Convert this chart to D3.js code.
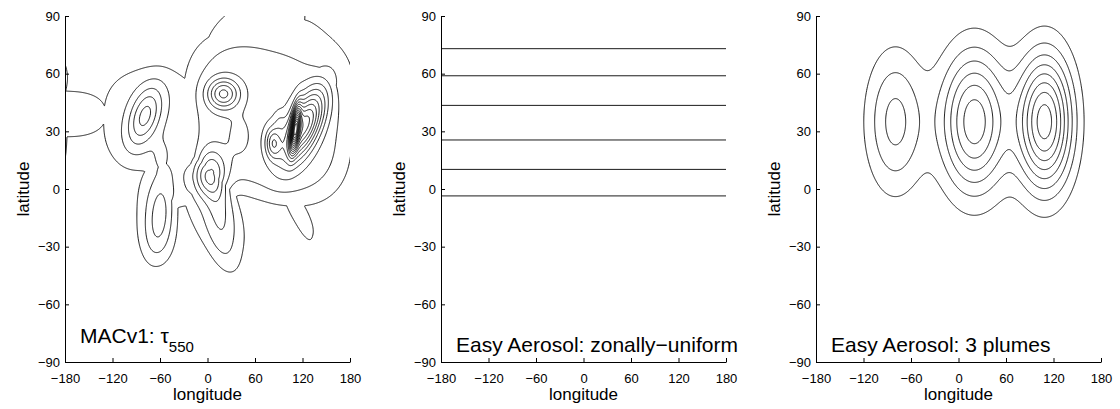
<!DOCTYPE html>
<html>
<head>
<meta charset="utf-8">
<script src="https://cdn.jsdelivr.net/npm/d3@7"></script>
<style>
  body { margin: 0; background: #fff; }
  text { font-family: "Liberation Sans", Arial, Helvetica, sans-serif; fill: #000; }
</style>
</head>
<body>
<svg id="fig" width="1120" height="409"></svg>
<script>
// axis ticks shared by the three maps
const lonTicks = [-180, -120, -60, 0, 60, 120, 180];
const latTicks = [-90, -60, -30, 0, 30, 60, 90];

// panel a: MACv1 optical depth.
// background regions (flat-topped patches): centre, level, half widths, tilt, edge sharpness
const baseLon   = [180, -70, -64, 8, -40, 76, 60, 145, 115];
const baseLat   = [39, 36, -13, -12, 3, 37, 80, 68, -12];
const baseLevel = [0.08, 0.08, 0.08, 0.08, 0.08, 0.13, 0.08, 0.08, 0.08];
const baseSu    = [52, 62, 25, 40, 30, 96, 65, 40, 22];
const baseSv    = [12, 26, 24, 20, 12, 39, 20, 14, 7];
const baseAngle = [0, 0, 0, -30, 0, -6, 12, -20, -35];
const baseSharp = [4, 4, 4, 4, 4, 6, 4, 4, 4];
// local maxima (gaussian bumps): centre, amplitude, widths, tilt
const peakLon   = [-79, -61, -58, 20, 40, 2, 13, 5, 111, 122, 83, 91];
const peakLat   = [38, -14, 15, 49.5, 27.5, 7, -9, 17, 31.5, 33, 24, 35];
const peakAmp   = [0.19, 0.10, 0.04, 0.24, 0.035, 0.19, 0.09, 0.03, 0.50, 0.40, 0.20, 0.045];
const peakSu    = [16, 14, 8, 13.8, 11, 15, 19, 14, 8, 20, 7, 5];
const peakSv    = [9, 10, 7, 5.4, 8.5, 7.5, 11, 6, 3.5, 9, 5.8, 4];
const peakAngle = [25, 70, 0, 0, 0, 0, -58, 0, 70, 30, 0, 0];
const macLevels = [0.05, 0.10, 0.15, 0.20, 0.25, 0.30, 0.35, 0.40, 0.45, 0.50, 0.55, 0.60,
                   0.65, 0.70, 0.75, 0.80, 0.85, 0.90, 0.95, 1.00, 1.05, 1.10, 1.15, 1.20];

// panel b: zonally uniform contours (latitudes)
const zonalLat = [73, 58.9, 43.5, 25.5, 10.2, -3.6];

// panel c: three gaussian plumes
const plumeLon  = [-80, 20, 109];
const plumeLat  = [35, 35, 35];
const plumeAmp  = [0.067, 0.133, 0.17];
const plumeSLon = [25.5, 29, 24];
const plumeSLat = [25, 25, 24];
const plumeLevels = [0.02, 0.04, 0.06, 0.08, 0.10, 0.12, 0.14, 0.16];

const titles = ["MACv1: ", "Easy Aerosol: zonally\u2212uniform", "Easy Aerosol: 3 plumes"];

const svg = d3.select("#fig");
const plotTop = 16, plotBottom = 362, plotW = 285;
const lefts = [65, 441, 816];
const fmt = d => d < 0 ? "\u2212" + (-d) : String(d);

function wrap(d) { return ((d + 540) % 360 + 360) % 360 - 180; }

function rot(dx, dy, deg) {
  const a = deg * Math.PI / 180;
  return [dx * Math.cos(a) + dy * Math.sin(a), -dx * Math.sin(a) + dy * Math.cos(a)];
}

function macField(lon, lat) {
  const q = 2.5;
  let base = 0;
  for (let i = 0; i < baseLon.length; i++) {
    const [u, w] = rot(wrap(lon - baseLon[i]), lat - baseLat[i], baseAngle[i]);
    const s = Math.pow(Math.abs(u / baseSu[i]), q) + Math.pow(Math.abs(w / baseSv[i]), q);
    base = Math.max(base, baseLevel[i] * Math.exp(-0.5 * Math.pow(s, baseSharp[i] / q)));
  }
  let v = base;
  for (let i = 0; i < peakLon.length; i++) {
    const [u, w] = rot(wrap(lon - peakLon[i]), lat - peakLat[i], peakAngle[i]);
    v += peakAmp[i] * Math.exp(-0.5 * (u * u / (peakSu[i] * peakSu[i]) + w * w / (peakSv[i] * peakSv[i])));
  }
  return v;
}

function plumeField(lon, lat) {
  let v = 0;
  for (let i = 0; i < plumeLon.length; i++) {
    const dx = (lon - plumeLon[i]) / plumeSLon[i], dy = (lat - plumeLat[i]) / plumeSLat[i];
    v += plumeAmp[i] * Math.exp(-0.5 * (dx * dx + dy * dy));
  }
  return v;
}

function drawContours(g, x, y, field, levels) {
  const step = 0.5, lon0 = -200, lon1 = 200, lat0 = 110, lat1 = -110;
  const nx = Math.round((lon1 - lon0) / step) + 1, ny = Math.round((lat0 - lat1) / step) + 1;
  const values = new Float64Array(nx * ny);
  for (let j = 0; j < ny; j++)
    for (let i = 0; i < nx; i++)
      values[j * nx + i] = field(lon0 + i * step, lat0 - j * step);
  const contours = d3.contours().size([nx, ny]).thresholds(levels)(values);
  const path = d3.geoPath(d3.geoTransform({
    point(px, py) { this.stream.point(x(lon0 + (px - 0.5) * step), y(lat0 - (py - 0.5) * step)); }
  }));
  g.selectAll("path.c").data(contours).join("path")
    .attr("class", "c")
    .attr("d", path)
    .attr("fill", "none")
    .attr("stroke", "#000")
    .attr("stroke-width", 0.9);
}

lefts.forEach((left, k) => {
  const x = d3.scaleLinear().domain([-180, 180]).range([left, left + plotW]);
  const y = d3.scaleLinear().domain([-90, 90]).range([plotBottom, plotTop]);

  svg.append("clipPath").attr("id", "clip" + k)
    .append("rect").attr("x", left).attr("y", plotTop).attr("width", plotW).attr("height", plotBottom - plotTop);
  const g = svg.append("g").attr("clip-path", `url(#clip${k})`);

  if (k === 0) drawContours(g, x, y, macField, macLevels);
  if (k === 1) {
    g.selectAll("line").data(zonalLat).join("line")
      .attr("x1", x(-180)).attr("x2", x(180))
      .attr("y1", d => y(d)).attr("y2", d => y(d))
      .attr("stroke", "#000").attr("stroke-width", 0.9);
  }
  if (k === 2) drawContours(g, x, y, plumeField, plumeLevels);

  const ax = svg.append("g").attr("transform", `translate(0,${plotBottom})`)
    .call(d3.axisBottom(x).tickValues(lonTicks).tickFormat(fmt)
      .tickSizeInner(-4).tickSizeOuter(0).tickPadding(12));
  const ay = svg.append("g").attr("transform", `translate(${left},0)`)
    .call(d3.axisLeft(y).tickValues(latTicks).tickFormat(fmt)
      .tickSizeInner(-4).tickSizeOuter(0).tickPadding(5));
  [ax, ay].forEach(a => {
    a.selectAll("path, line").attr("stroke", "#000");
    a.selectAll("text").attr("font-size", 13).attr("font-family", null);
  });

  svg.append("text").attr("x", left + plotW / 2).attr("y", 400)
    .attr("text-anchor", "middle").attr("font-size", 17).text("longitude");
  svg.append("text")
    .attr("transform", `translate(${left - 36},${(plotTop + plotBottom) / 2}) rotate(-90)`)
    .attr("text-anchor", "middle").attr("font-size", 17).text("latitude");

  const t = svg.append("text").attr("x", left + 15).attr("y", k === 0 ? 343 : 352)
    .attr("font-size", 21).text(titles[k]);
  if (k === 0) {
    t.append("tspan").text("\u03c4");
    t.append("tspan").attr("dy", 9).attr("font-size", 15).text("550");
  }
});
</script>
</body>
</html>
